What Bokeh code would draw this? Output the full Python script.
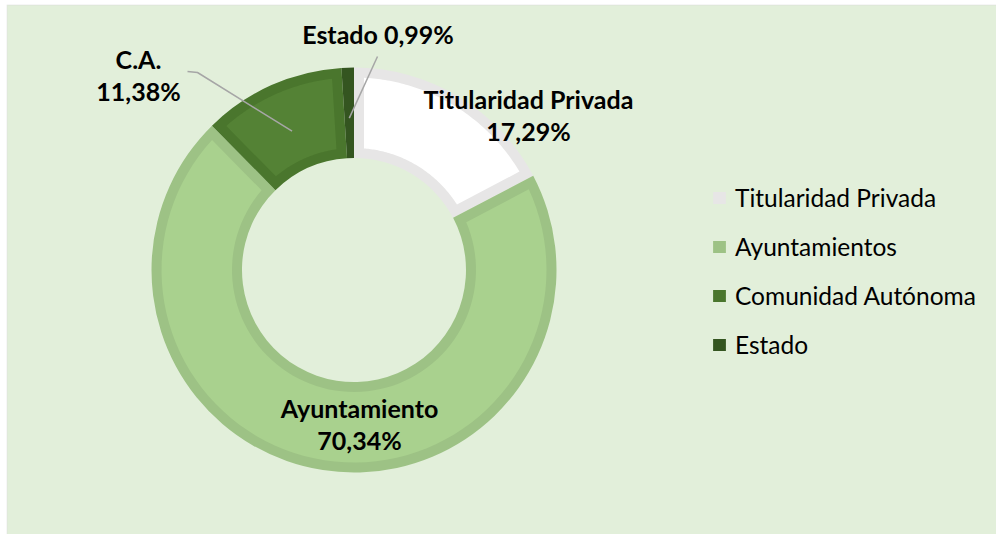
import math
from bokeh.plotting import figure
from bokeh.models import ColumnDataSource, Range1d, Legend, LegendItem, BoxAnnotation
from bokeh.core.properties import value
from bokeh.embed import file_html
from bokeh.resources import INLINE

# ---- data ----
categories = ["Titularidad Privada", "Ayuntamientos", "Comunidad Autónoma", "Estado"]
label_names = ["Titularidad Privada", "Ayuntamiento", "C.A.", "Estado"]
percentages = [17.29, 70.34, 11.38, 0.99]
fill_colors = ["#ffffff", "#a9d18e", "#548235", "#345520"]
border_colors = ["#e7e6e6", "#9dc285", "#4a762d", "#345520"]

# ---- layout (pixels) ----
W, H = 996, 534
BG = "#e2efda"
CX, CY = 353.5, 264.5      # donut centre
R_OUT, R_IN, BORDER = 202.5, 112.0, 10.0

p = figure(width=W, height=H, output_backend="svg", toolbar_location=None,
           x_range=Range1d(0, W), y_range=Range1d(0, H), min_border=0)
p.axis.visible = False
p.grid.visible = False
p.outline_line_color = None
p.background_fill_color = "#ffffff"
p.border_fill_color = "#ffffff"

# chart area (light green with grey edge)
p.add_layout(BoxAnnotation(left=6.5, right=W + 5, top=H - 4.5, bottom=-5,
                           fill_color=BG, fill_alpha=1, line_color="#d9d9d9",
                           line_width=1.5, level="underlay"))

# angles: start at 12 o'clock, clockwise
total = sum(percentages)
starts, ends = [], []
acc = 0.0
for v in percentages:
    s = acc / total
    acc += v
    e = acc / total
    starts.append(math.pi / 2 - 2 * math.pi * e)   # anticlock start
    ends.append(math.pi / 2 - 2 * math.pi * s)
mids = [(a + b) / 2 for a, b in zip(starts, ends)]

src = ColumnDataSource(dict(x=[CX] * 4, y=[CY] * 4, start=starts, end=ends,
                            color=border_colors, cat=categories))
base = p.annular_wedge(x="x", y="y", inner_radius=R_IN, outer_radius=R_OUT,
                       start_angle="start", end_angle="end", fill_color="color",
                       line_color=None, source=src)

# inner fill (slice minus its border band)
xs, ys, cols = [], [], []
for a0, a1, col in zip(starts, ends, fill_colors):
    ro = R_OUT - BORDER
    ri = R_IN + BORDER
    do = math.asin(BORDER / ro)
    di = math.asin(BORDER / ri)
    if (a1 - a0) - 2 * di <= 0:
        continue
    n = 80
    px, py = [], []
    for k in range(n + 1):
        t = a0 + do + (a1 - a0 - 2 * do) * k / n
        px.append(CX + ro * math.cos(t)); py.append(CY + ro * math.sin(t))
    for k in range(n + 1):
        t = a1 - di - (a1 - a0 - 2 * di) * k / n
        px.append(CX + ri * math.cos(t)); py.append(CY + ri * math.sin(t))
    xs.append(px); ys.append(py); cols.append(col)
p.patches(xs=xs, ys=ys, fill_color=cols, line_color=None)

# ---- data labels ----
def fmt(v):
    return f"{v:.2f}".replace(".", ",") + "%"

FONT = value("Lato")
# (centre x, baseline of first line) in pixel layout, per slice
lab_pos = [(528, 436), (359, 127), (138, 476), (377.5, 501)]
lab_lines = [2, 2, 2, 1]
LINE_H = 32
tx, ty, tt = [], [], []
for i in range(4):
    lx, ly = lab_pos[i]
    if lab_lines[i] == 2:
        tx += [lx, lx]; ty += [ly, ly - LINE_H]
        tt += [label_names[i], fmt(percentages[i])]
    else:
        tx.append(lx); ty.append(ly); tt.append(f"{label_names[i]} {fmt(percentages[i])}")
p.text(x=tx, y=ty, text=tt, text_font=FONT, text_font_style="bold",
       text_font_size="25px", text_align="center", text_baseline="alphabetic",
       text_color="#000000")

# leader lines
R_LEAD = 152
ca_x = CX + R_LEAD * math.cos(mids[2]); ca_y = CY + R_LEAD * math.sin(mids[2])
es_x = CX + R_LEAD * math.cos(mids[3]); es_y = CY + R_LEAD * math.sin(mids[3])
p.line(x=[187, 197, ca_x], y=[463, 462, ca_y], line_color="#a6a6a6", line_width=1.5)
p.line(x=[377, es_x], y=[478, es_y], line_color="#a6a6a6", line_width=1.5)

# ---- legend ----
items = [LegendItem(label=c, renderers=[base], index=i) for i, c in enumerate(categories)]
legend = Legend(items=items, location=(711, 175), orientation="vertical",
                glyph_width=16, glyph_height=15, label_standoff=8, spacing=20,
                padding=0, margin=0, border_line_color=None,
                background_fill_alpha=0, label_text_font="Lato",
                label_text_font_size="24.5px", label_text_color="#000000")
p.add_layout(legend)

open("out.html", "w").write(file_html(p, INLINE))
